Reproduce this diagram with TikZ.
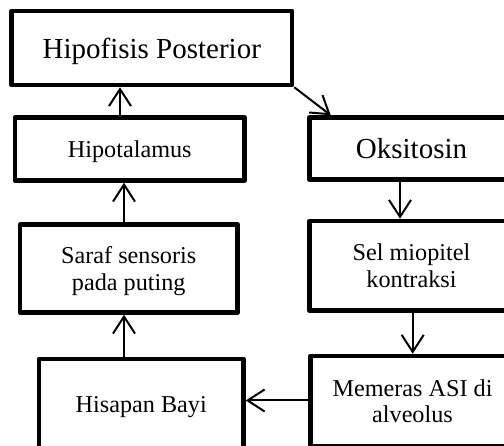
\documentclass[tikz,border=0pt]{standalone}
\usepackage{fontspec}
\setmainfont{Liberation Serif}
\usetikzlibrary{arrows.meta}
\begin{document}
\begin{tikzpicture}[x=1pt,y=-1pt,
  box/.style={draw,line width=4.5pt,rectangle,inner sep=0pt,align=center,line join=round,text depth=0pt},
  big/.style={font=\fontsize{29}{31}\selectfont},
  small/.style={font=\fontsize{24.2}{26.5}\selectfont},
  arr/.style={line width=2pt,-{Straight Barb[length=17pt,width=22pt,line width=2pt]}}]
\clip (0,0) rectangle (504,446);
\node[box,big,minimum width=280.5pt,minimum height=74pt] (hipof) at (151.75,48) {Hipofisis Posterior};
\node[box,small,minimum width=229.5pt,minimum height=63pt] (hipot) at (129.75,149) {Hipotalamus};
\node[box,big,minimum width=204pt,minimum height=62pt] (oks) at (411.5,148.5) {Oksitosin};
\node[box,small,minimum width=217.5pt,minimum height=88pt] (saraf) at (128.75,268.5) {Saraf sensoris\\pada puting};
\node[box,small,minimum width=204pt,minimum height=89.5pt] (sel) at (411.5,265.75) {Sel miopitel\\kontraksi};
\node[box,small,minimum width=204.5pt,minimum height=90pt] (his) at (141.25,404) {Hisapan Bayi};
\node[box,small,minimum width=204pt,minimum height=90pt] (mem) at (412.5,401) {Memeras ASI di\\alveolus};
\coordinate (xa) at (120,0);
\coordinate (xb) at (124,0);
\coordinate (xc) at (400,0);
\coordinate (xd) at (412.7,0);
\coordinate (ya) at (0,400.5);
\draw[arr] (hipot.north -| xa) -- (hipof.south -| xa);
\draw[arr] (saraf.north -| xb) -- (hipot.south -| xb);
\draw[arr] (his.north -| xb) -- (saraf.south -| xb);
\draw[arr] (hipof.south east) -- ([xshift=23.5pt]oks.north west);
\draw[arr] (oks.south -| xc) -- (sel.north -| xc);
\draw[arr] (sel.south -| xd) -- (mem.north -| xd);
\draw[arr] (mem.west |- ya) -- (his.east |- ya);
\end{tikzpicture}
\end{document}
